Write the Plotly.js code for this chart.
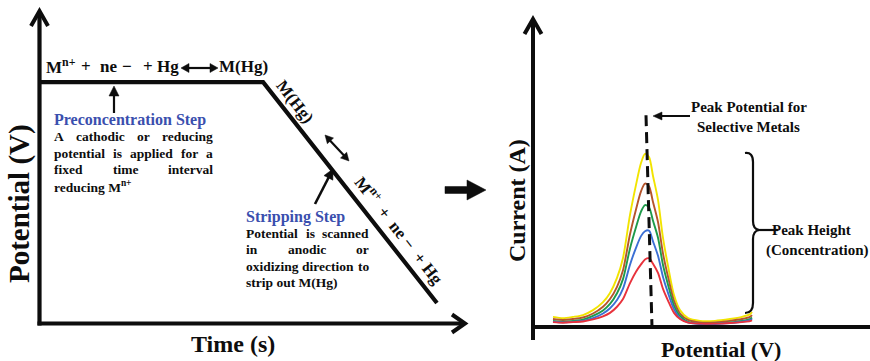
<!DOCTYPE html>
<html>
<head>
<meta charset="utf-8">
<script src="https://cdn.plot.ly/plotly-3.0.1.min.js"></script>
<style>
  html, body { margin: 0; padding: 0; background: #fff; }
  #chart { width: 870px; height: 361px; }
</style>
</head>
<body>
<div id="chart"></div>
<script>
// Anodic stripping voltammetry: applied potential waveform (left) and
// stripping voltammograms for increasing metal concentration (right).

// Left panel: applied potential vs time (arbitrary units)
const stepTime = [0, 52.5, 93.4];
const stepPotential = [77.2, 77.2, 6.4];

// Right panel: scanned potential (arbitrary units) and stripping currents
const scanPotential = [0, 10, 20, 30, 40, 50, 57, 64, 70, 77, 83, 88, 92, 96, 100, 105, 110, 115, 121, 127, 135, 147, 162, 177, 189, 197, 199];
const currentYellow = [3.3, 2.9, 3.3, 3.9, 5.5, 8.1, 11.1, 16.0, 22.5, 36.5, 46.3, 53.4, 56.4, 55.4, 49.2, 41.4, 29.0, 19.9, 10.4, 5.5, 2.9, 2.0, 2.0, 2.6, 3.3, 4.2, 4.9];
const currentBrown  = [2.6, 2.3, 2.6, 3.1, 4.4, 6.6, 9.1, 13.1, 18.5, 30.2, 38.3, 44.2, 46.7, 45.8, 40.7, 34.2, 23.9, 16.4, 8.5, 4.4, 2.3, 1.5, 1.5, 2.0, 2.6, 3.3, 3.9];
const currentGreen  = [2.0, 1.7, 2.0, 2.4, 3.6, 5.4, 7.5, 11.0, 15.6, 25.6, 32.5, 37.6, 39.7, 39.0, 34.6, 29.1, 20.2, 13.8, 7.0, 3.6, 1.7, 1.1, 1.1, 1.5, 2.0, 2.6, 3.1];
const currentBlue   = [1.7, 1.5, 1.7, 2.0, 2.9, 4.4, 6.1, 8.8, 12.5, 20.3, 25.8, 29.6, 31.2, 31.4, 27.9, 23.2, 16.3, 11.1, 5.8, 2.9, 1.5, 1.0, 1.0, 1.3, 1.7, 2.2, 2.6];
const currentRed    = [1.6, 1.4, 1.6, 1.8, 2.5, 3.5, 4.6, 6.6, 9.1, 14.3, 18.0, 20.4, 22.0, 22.4, 20.6, 17.6, 12.4, 8.6, 4.6, 2.6, 1.4, 1.1, 1.1, 1.3, 1.6, 1.9, 2.2];

const curveSeries = [currentYellow, currentBrown, currentGreen, currentBlue, currentRed];
const curveColors = ['#f2e400', '#b5552c', '#1e9a4a', '#3b6fd4', '#e8323c'];

// ---- geometry helpers (pixel -> paper) ----
const W = 870, H = 361;
const fx = x => x / W;
const fy = y => 1 - y / H;
const SERIF = 'Liberation Serif, Times New Roman, serif';
const INK = '#0d0d0d';

function pathOf(pts, close) {
  let s = pts.map((p, i) => (i ? 'L' : 'M') + fx(p[0]).toFixed(5) + ',' + fy(p[1]).toFixed(5)).join(' ');
  return close ? s + ' Z' : s;
}
function stroke(pts, width) {
  return { type: 'path', xref: 'paper', yref: 'paper', path: pathOf(pts, false),
           line: { color: INK, width: width } };
}
function solid(pts) {
  return { type: 'path', xref: 'paper', yref: 'paper', path: pathOf(pts, true),
           fillcolor: INK, line: { color: INK, width: 0.5 } };
}
// thin arrow from tail to tip with a filled triangular head
function thinArrow(tail, tip, width, len, half, twoHeads) {
  const dx = tip[0] - tail[0], dy = tip[1] - tail[1];
  const d = Math.hypot(dx, dy), ux = dx / d, uy = dy / d, nx = -uy, ny = ux;
  const head = (t, sx, sy) => {
    const bx = t[0] - sx * len, by = t[1] - sy * len;
    return solid([t, [bx + nx * half, by + ny * half], [bx - nx * half, by - ny * half]]);
  };
  const start = twoHeads ? [tail[0] + ux * (len - 1), tail[1] + uy * (len - 1)] : tail;
  const end = [tip[0] - ux * (len - 1), tip[1] - uy * (len - 1)];
  const out = [stroke([start, end], width), head(tip, ux, uy)];
  if (twoHeads) out.push(head(tail, -ux, -uy));
  return out;
}

// ---- text helpers ----
function label(text, x, y, o) {
  o = o || {};
  return {
    text: text, x: fx(x), y: fy(y), xref: 'paper', yref: 'paper', showarrow: false,
    xanchor: o.anchor || 'center', yanchor: 'middle', textangle: o.angle || 0,
    borderpad: 0,
    font: { family: SERIF, size: o.size || 13, color: o.color || INK, weight: 'bold' }
  };
}
const measureCtx = document.createElement('canvas').getContext('2d');
function textWidth(t, size) {
  measureCtx.font = 'bold ' + size + 'px "Liberation Serif"';
  return measureCtx.measureText(t).width;
}
// fully justified line: words spread evenly between x0 and x1
function justified(words, x0, x1, y, size, out) {
  const widths = words.map(w => textWidth(w, size));
  const total = widths.reduce((a, b) => a + b, 0);
  const gap = (x1 - x0 - total) / (words.length - 1);
  let x = x0;
  words.forEach((w, i) => { out.push(label(w, x, y, { anchor: 'left', size: size })); x += widths[i] + gap; });
}

// ---- traces ----
const traces = [{
  x: stepTime, y: stepPotential, xaxis: 'x', yaxis: 'y', mode: 'lines',
  line: { color: INK, width: 4.2 }, hoverinfo: 'skip'
}];
curveSeries.forEach((ys, i) => traces.push({
  x: scanPotential, y: ys, xaxis: 'x2', yaxis: 'y2', mode: 'lines',
  line: { color: curveColors[i], width: 1.9, shape: 'spline', smoothing: 0.8 }, hoverinfo: 'skip'
}));

// peak position taken from the largest voltammogram
const peakIdx = currentYellow.indexOf(Math.max(...currentYellow));
const peakX = scanPotential[peakIdx];

// ---- shapes ----
const shapes = [];
// left axes with open arrowheads
shapes.push(stroke([[39.5, 325.5], [39.5, 13]], 4.2));
shapes.push(stroke([[31, 26], [39.5, 11], [48, 26]], 4));
shapes.push(stroke([[37.5, 323.5], [462, 323.5]], 4.2));
shapes.push(stroke([[452, 314.5], [465, 323.5], [452, 332.5]], 4));
// right axes
shapes.push(stroke([[533, 340], [533, 22]], 4));
shapes.push(stroke([[524.5, 34], [533, 19], [541.5, 34]], 4));
shapes.push(stroke([[531, 327], [870, 327]], 4.2));
// block arrow between panels
shapes.push(solid([[445, 186.5], [467, 186.5], [467, 180], [486, 190], [467, 200], [467, 193.5], [445, 193.5]]));
// small arrows
shapes.push(...thinArrow([114, 113], [114, 86], 2.2, 10, 5, false));
shapes.push(...thinArrow([181, 68], [218, 68], 2.2, 8, 4.5, true));
shapes.push(...thinArrow([325, 135], [349, 161], 2.2, 8, 4.2, true));
shapes.push(...thinArrow([315, 204], [333, 169], 2.6, 10, 5, false));
shapes.push(...thinArrow([690, 116], [653, 116], 2, 9, 4, false));
// dashed marker at the peak potential
shapes.push({ type: 'line', xref: 'x2', yref: 'y2', x0: peakX + 1, y0: 69, x1: peakX + 7, y1: 0,
              line: { color: INK, width: 3, dash: '11px,6px' } });
// curly brace spanning the peak heights
const br = (x, y) => fx(x).toFixed(5) + ',' + fy(y).toFixed(5);
shapes.push({ type: 'path', xref: 'paper', yref: 'paper', line: { color: INK, width: 2.2 },
  path: 'M' + br(745, 153) + ' Q' + br(753, 152) + ' ' + br(753, 162) + ' L' + br(753, 221) +
        ' Q' + br(753, 229) + ' ' + br(759, 230) + ' Q' + br(753, 231) + ' ' + br(753, 239) +
        ' L' + br(753, 303) + ' Q' + br(753, 313) + ' ' + br(745, 313) });
shapes.push(stroke([[758, 230], [778, 230]], 2.2));

// ---- annotations ----
const ann = [];
const NB = '\u00a0';
// reaction written above the deposition plateau
ann.push(label('M<sup>n+</sup>', 45, 66, { anchor: 'left', size: 17 }));
ann.push(label('+', 86, 66, { size: 17 }));
ann.push(label('ne', 108, 66, { size: 17 }));
ann.push(label('−', 127, 66, { size: 17 }));
ann.push(label('+', 148, 66, { size: 17 }));
ann.push(label('Hg', 180, 66, { anchor: 'right', size: 17 }));
ann.push(label('M(Hg)', 218, 66, { anchor: 'left', size: 17 }));

ann.push(label('Preconcentration Step', 53, 120, { anchor: 'left', size: 16, color: '#3a4fae' }));
justified(['A', 'cathodic', 'or', 'reducing'], 53, 212, 137, 13.5, ann);
justified(['potential', 'is', 'applied', 'for', 'a'], 53, 212, 153.5, 13.5, ann);
justified(['fixed', 'time', 'interval'], 53, 212, 170, 13.5, ann);
ann.push(label('reducing M<sup>n+</sup>', 53, 186, { anchor: 'left', size: 13.5 }));

ann.push(label('M(Hg)', 295, 101, { angle: 52, size: 17 }));
ann.push(label('M<sup>n+</sup>' + NB + NB + '+' + NB + NB + 'ne' + NB + '−' + NB + NB + '+' + NB + 'Hg', 400, 230, { angle: 52, size: 17 }));

ann.push(label('Stripping Step', 245, 217, { anchor: 'left', size: 16, color: '#3a4fae' }));
justified(['Potential', 'is', 'scanned'], 245, 368, 233, 13.5, ann);
justified(['in', 'anodic', 'or'], 245, 368, 249.5, 13.5, ann);
justified(['oxidizing', 'direction', 'to'], 245, 368, 266, 13.5, ann);
ann.push(label('strip out M(Hg)', 245, 282, { anchor: 'left', size: 13.5 }));

ann.push(label('Potential (V)', 19, 204, { angle: -90, size: 29 }));
ann.push(label('Time (s)', 233, 344, { size: 24 }));

ann.push(label('Peak Potential for', 749, 107, { size: 15 }));
ann.push(label('Selective Metals', 748, 127, { size: 15 }));
ann.push(label('Peak Height', 811, 230, { size: 15 }));
ann.push(label('(Concentration)', 817, 250, { size: 15 }));
ann.push(label('Current (A)', 517, 201, { angle: -90, size: 24 }));
ann.push(label('Potential (V)', 721, 349, { size: 22 }));

const hidden = { visible: false, fixedrange: true, showgrid: false, zeroline: false };
const layout = {
  width: W, height: H,
  margin: { l: 0, r: 0, t: 0, b: 0, pad: 0 },
  paper_bgcolor: '#ffffff', plot_bgcolor: 'rgba(0,0,0,0)',
  showlegend: false,
  xaxis:  Object.assign({ domain: [fx(40), fx(465)], range: [0, 100] }, hidden),
  yaxis:  Object.assign({ domain: [fy(323), fy(11)], range: [0, 100] }, hidden),
  xaxis2: Object.assign({ domain: [fx(533), 1], range: [-20, 317], anchor: 'y2' }, hidden),
  yaxis2: Object.assign({ domain: [fy(327), fy(20)], range: [0, 100], anchor: 'x2' }, hidden),
  shapes: shapes,
  annotations: ann
};

Plotly.newPlot('chart', traces, layout, { staticPlot: true, displayModeBar: false });
</script>
</body>
</html>
